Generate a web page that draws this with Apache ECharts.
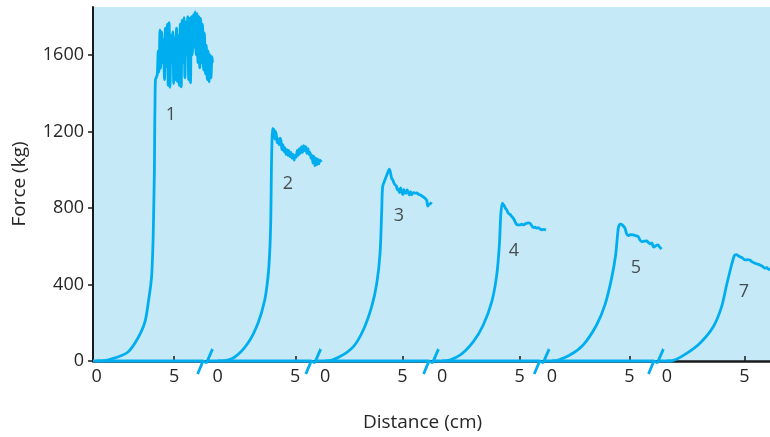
<!DOCTYPE html>
<html>
<head>
<meta charset="utf-8">
<script src="https://cdn.jsdelivr.net/npm/echarts@6.0.0/dist/echarts.min.js"></script>
<style>
  html, body { margin: 0; padding: 0; background: #fff; }
  #chart { width: 770px; height: 437px; }
</style>
</head>
<body>
<div id="chart"></div>
<script>
// where each trial's own 0 cm sits on the shared axis (cm)
var zeroAt = [0.23, 8.05, 14.97, 22.52, 29.61, 37.03];
// axis break marks between trials (cm)
var breakAt = [7.23, 14.21, 21.81, 28.95, 36.32];
var yTicks = [0, 400, 800, 1200, 1600];
var trialNames = ['1', '2', '3', '4', '5', '7'];
var trialLabelAt = [[5.03, 1287], [12.58, 926], [19.74, 758], [27.16, 575], [35.03, 486], [42.0, 361]];

// force (kg) vs distance (cm), each from its own 0
var pull1 = [[0,0],[0.35,0],[1.19,16],[2.03,47],[2.67,120],[3.12,204],[3.38,330],[3.5,400],[3.57,465],[3.65,643],[3.7,850],[3.73,988],[3.75,1200],[3.77,1339],[3.8,1470],[3.87,1485],
  [3.92,1500],[3.98,1620],[4.03,1510],[4.09,1730],[4.14,1530],[4.2,1720],[4.26,1560],[4.32,1680],[4.38,1470],[4.44,1740],[4.5,1540],[4.56,1760],[4.62,1440],[4.68,1768],[4.74,1430],[4.8,1700],
  [4.86,1560],[4.92,1720],[4.98,1450],[5.04,1690],[5.1,1470],[5.16,1740],[5.22,1460],[5.28,1700],[5.34,1440],[5.4,1760],[5.46,1433],[5.52,1780],[5.58,1560],[5.64,1794],[5.7,1480],[5.76,1770],
  [5.82,1600],[5.88,1800],[5.94,1470],[6.0,1790],[6.06,1454],[6.12,1800],[6.18,1600],[6.24,1810],[6.3,1640],[6.36,1825],[6.42,1600],[6.48,1815],[6.54,1560],[6.6,1800],[6.66,1532],[6.72,1790],
  [6.78,1560],[6.84,1760],[6.9,1520],[6.96,1715],[7.02,1500],[7.08,1650],[7.14,1470],[7.2,1620],[7.26,1459],[7.32,1600],[7.38,1480],[7.45,1590],[7.48,1560]];
var pull2 = [[0,0],[0.24,0],[1.10,21],[1.95,94],[2.6,199],[3.03,319],[3.24,439],[3.35,565],[3.42,737],[3.46,999],[3.50,1156],[3.54,1215],[3.57,1190],[3.62,1212],[3.68,1160],[3.73,1200],[3.79,1175],
  [3.84,1140],[3.9,1160],[3.96,1130],[4.02,1165],[4.08,1150],[4.14,1105],[4.2,1130],[4.27,1095],[4.33,1115],[4.4,1080],[4.46,1105],[4.52,1075],[4.58,1100],[4.65,1068],[4.72,1090],[4.79,1060],
  [4.86,1080],[4.93,1050],[4.99,1075],[5.06,1065],[5.13,1100],[5.2,1075],[5.26,1110],[5.33,1085],[5.4,1120],[5.47,1090],[5.54,1125],[5.61,1100],[5.68,1120],[5.75,1085],[5.82,1110],[5.88,1080],
  [5.95,1090],[6.02,1060],[6.08,1075],[6.14,1035],[6.2,1070],[6.26,1020],[6.32,1060],[6.38,1025],[6.45,1055],[6.52,1030],[6.6,1050],[6.68,1040]];
var pull3 = [[0,0],[0.11,0],[0.97,23],[1.83,75],[2.47,162],[3.01,284],[3.34,406],[3.55,563],[3.66,790],[3.72,912],[3.87,947],[4.0,975],[4.15,1003],[4.22,985],[4.3,955],[4.38,945],[4.45,930],
  [4.52,920],[4.6,915],[4.66,895],[4.73,900],[4.8,880],[4.88,905],[4.95,885],[5.02,870],[5.09,895],[5.16,877],[5.23,880],[5.3,894],[5.37,880],[5.45,868],[5.52,885],[5.59,868],[5.7,880],[5.8,877],
  [5.92,878],[6.05,870],[6.15,868],[6.3,860],[6.45,851],[6.56,840],[6.63,810],[6.7,818],[6.8,822],[6.88,830]];
var pull4 = [[0,0],[0.08,0],[1.16,31],[2.02,101],[2.66,188],[3.21,310],[3.53,450],[3.7,607],[3.79,764],[3.89,825],[3.98,815],[4.08,800],[4.17,790],[4.28,772],[4.4,765],[4.5,755],[4.6,746],
  [4.7,730],[4.8,715],[4.92,711],[5.05,712],[5.15,715],[5.25,711],[5.4,718],[5.55,722],[5.68,720],[5.8,705],[5.9,697],[6.0,700],[6.1,694],[6.21,697],[6.32,690],[6.43,686],[6.55,688],[6.71,685]];
var pull5 = [[0,0],[0.08,0],[1.16,31],[2.02,84],[2.88,188],[3.42,293],[3.85,432],[4.11,554],[4.28,694],[4.36,712],[4.43,715],[4.55,710],[4.71,694],[4.82,665],[4.92,655],[5.05,660],[5.25,659],
  [5.4,655],[5.57,650],[5.68,632],[5.79,624],[5.95,626],[6.11,628],[6.22,620],[6.32,612],[6.45,617],[6.52,600],[6.58,595],[6.7,602],[6.84,607],[6.95,595],[7.08,585]];
var pull7 = [[0,0],[0.41,3],[1.27,40],[2.13,93],[2.99,179],[3.53,284],[3.85,397],[4.17,502],[4.32,545],[4.39,554],[4.5,556],[4.6,550],[4.71,545],[4.85,540],[5.03,528],[5.2,530],[5.35,528],
  [5.5,518],[5.68,511],[5.85,506],[6.0,502],[6.15,495],[6.32,485],[6.45,488],[6.54,481],[6.65,478]];
var pulls = [pull1, pull2, pull3, pull4, pull5, pull7];

var blue = '#00aeef';
var ink = '#262626';
var font = 'Open Sans';

// baseline at 0 kg with the little break squiggles
var baseline = [[0, 0]];
breakAt.forEach(function (b) {
  baseline.push([b - 0.13, 0], [b - 0.48, -68], [b - 0.13, 0], [b + 0.10, -9], [b + 0.48, 62], [b + 0.14, 0]);
});
baseline.push([zeroAt[5] + 0.3, 0]);

var fives = zeroAt.map(function (z) { return z + 5; });
var xLabelValues = zeroAt.concat(fives);

var series = [{
  type: 'line',
  data: baseline,
  showSymbol: false,
  clip: false,
  lineStyle: { color: blue, width: 2.8 },
  z: 3
}];
pulls.forEach(function (p, i) {
  series.push({
    type: 'line',
    name: trialNames[i],
    data: p.map(function (d) { return [d[0] + zeroAt[i], d[1]]; }),
    showSymbol: false,
    smooth: 0.3,
    lineStyle: { color: blue, width: 2.8 },
    z: 4
  });
});
series.push({
  type: 'scatter',
  symbolSize: 0,
  data: trialLabelAt.map(function (d, i) { return { value: d, name: trialNames[i] }; }),
  label: {
    show: true, position: 'inside', formatter: '{b}',
    color: ink, fontSize: 18, fontFamily: font
  },
  z: 5
});

var chart = echarts.init(document.getElementById('chart'));
chart.setOption({
  animation: false,
  grid: {
    left: 93, right: 0, top: 7, bottom: 75,
    show: true, backgroundColor: '#c6e9f8', borderWidth: 0
  },
  xAxis: {
    type: 'value', min: 0, max: 43.68,
    name: 'Distance (cm)', nameLocation: 'middle', nameGap: 52,
    nameTextStyle: { color: ink, fontSize: 19, fontFamily: font, padding: [0, 18, 0, 0] },
    axisLine: { lineStyle: { color: '#1a1a1a', width: 2.5 } },
    axisTick: { customValues: fives, inside: true, length: 5, lineStyle: { color: '#1a1a1a', width: 1.5 } },
    axisLabel: {
      customValues: xLabelValues, margin: 7,
      color: ink, fontSize: 18, fontFamily: font,
      formatter: function (v) {
        return zeroAt.some(function (z) { return Math.abs(z - v) < 1e-6; }) ? '0' : '5';
      }
    },
    splitLine: { show: false }
  },
  yAxis: {
    type: 'value', min: 0, max: 1850,
    name: 'Force (kg)', nameLocation: 'middle', nameGap: 64,
    nameTextStyle: { color: ink, fontSize: 19, fontFamily: font },
    axisLine: { show: true, lineStyle: { color: '#1a1a1a', width: 2 } },
    axisTick: { show: true, customValues: yTicks, length: 5, lineStyle: { color: '#1a1a1a', width: 1.5 } },
    axisLabel: {
      customValues: yTicks, margin: 9, color: ink, fontSize: 18, fontFamily: font,
      formatter: function (v) { return String(v); }
    },
    splitLine: { show: false }
  },
  series: series
});
</script>
</body>
</html>
